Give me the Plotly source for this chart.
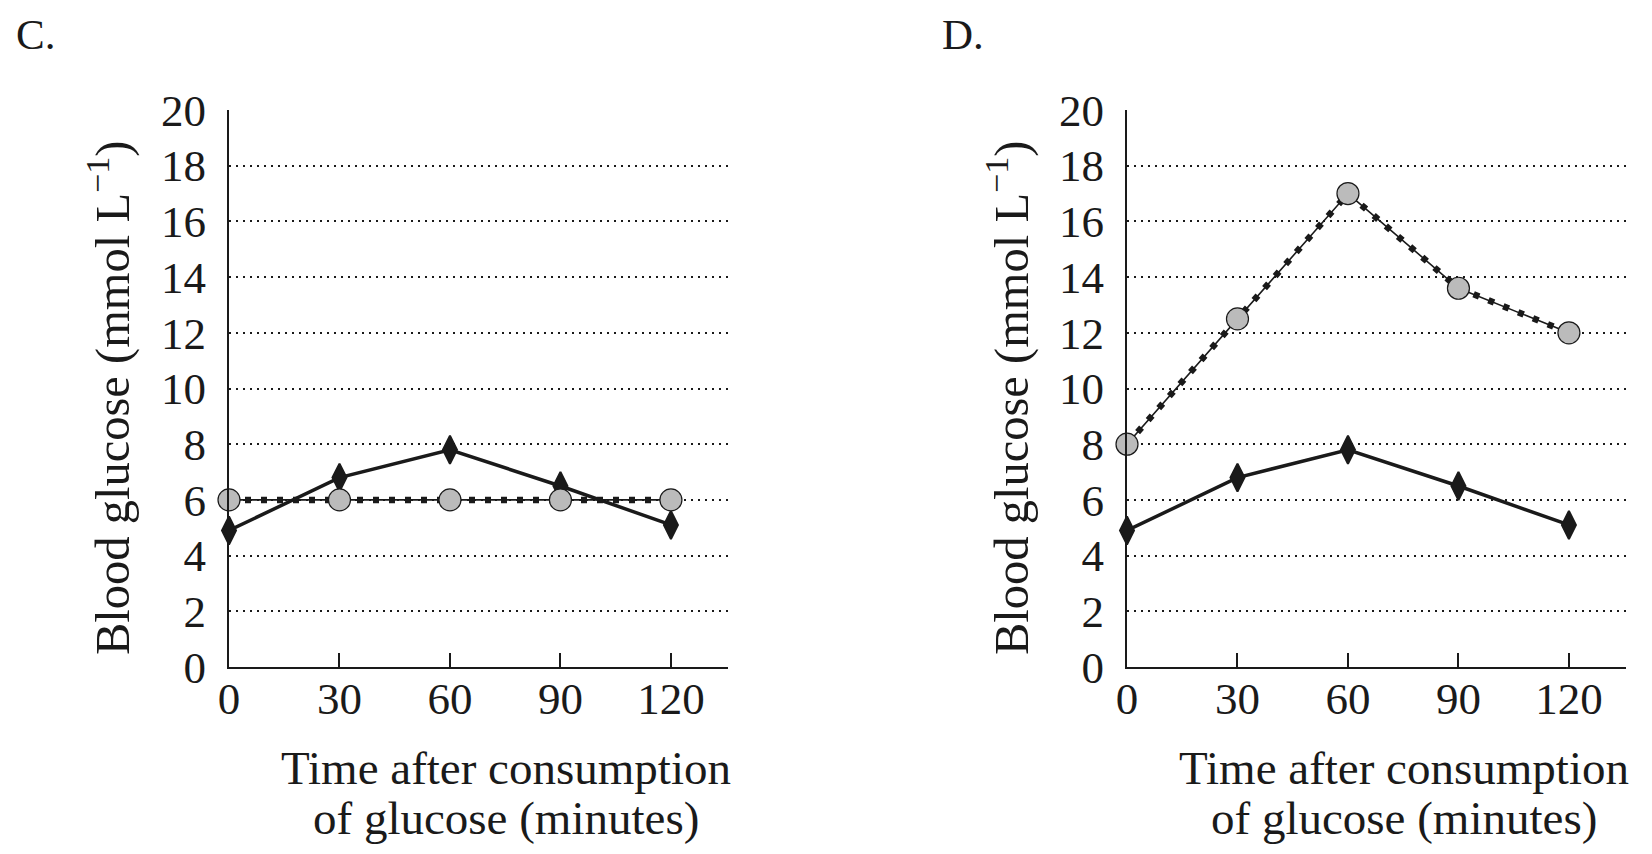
import plotly.graph_objects as go

# ---- data ----
minutes = [0, 30, 60, 90, 120]
diamond_C = [4.9, 6.8, 7.8, 6.5, 5.1]
circle_C = [6, 6, 6, 6, 6]
diamond_D = [4.9, 6.8, 7.8, 6.5, 5.1]
circle_D = [8, 12.5, 17, 13.6, 12]

y_ticks = [0, 2, 4, 6, 8, 10, 12, 14, 16, 18, 20]
x_ticks = [0, 30, 60, 90, 120]
panel_labels = ["C.", "D."]
xtitle_lines = ["Time after consumption", "of glucose (minutes)"]
ytitle = "Blood glucose (mmol L<sup>\u22121</sup>)"

W, H = 1652, 854
OFF = 8  # page margin around the plot div
FONT = "Liberation Serif"
INK = "#1a1a1a"


# screen pixel -> paper fraction
def px(x):
    return (x - OFF) / W


def py(y):
    return 1 - (y - OFF) / H


fig = go.Figure()

panels = [
    ("x", "y", diamond_C, circle_C),
    ("x2", "y2", diamond_D, circle_D),
]

for xa, ya, dia, cir in panels:
    # solid line with black diamonds
    fig.add_trace(go.Scatter(
        x=minutes, y=dia, xaxis=xa, yaxis=ya, mode="lines+markers",
        line=dict(color=INK, width=3.5),
        marker=dict(symbol="diamond-tall", size=20, color=INK,
                    line=dict(color=INK, width=2)),
        cliponaxis=False, showlegend=False, hoverinfo="skip",
    ))
    # dotted line (thin line + dots) with grey circles
    fig.add_trace(go.Scatter(
        x=minutes, y=cir, xaxis=xa, yaxis=ya, mode="lines",
        line=dict(color=INK, width=6.5, dash="6px,10px"),
        cliponaxis=False, showlegend=False, hoverinfo="skip",
    ))
    fig.add_trace(go.Scatter(
        x=minutes, y=cir, xaxis=xa, yaxis=ya, mode="lines+markers",
        line=dict(color=INK, width=1.6),
        marker=dict(symbol="circle", size=22, color="#bbbbbb",
                    line=dict(color=INK, width=1.2)),
        cliponaxis=False, showlegend=False, hoverinfo="skip",
    ))

y_dom = [py(667), py(110)]
x_doms = [[px(229), px(728)], [px(1127), px(1626)]]

xaxis_style = dict(
    range=[0, 135.5], tickvals=x_ticks, ticks="inside", ticklen=14,
    tickwidth=1.5, tickcolor=INK, showline=True, linecolor=INK, linewidth=2,
    showgrid=False, zeroline=False, ticklabelstandoff=-9, automargin=False,
    tickfont=dict(family=FONT, size=45, color=INK), fixedrange=True,
)
yaxis_style = dict(
    range=[0, 20], tickvals=y_ticks, ticks="", showline=True, linecolor=INK,
    linewidth=2, showgrid=True, gridcolor=INK, gridwidth=2,
    griddash="2px,5px", zeroline=False, ticklabelstandoff=12,
    domain=y_dom, automargin=False,
    tickfont=dict(family=FONT, size=45, color=INK), fixedrange=True,
)

fig.update_layout(
    width=W, height=H,
    margin=dict(l=0, r=0, t=0, b=0, pad=0),
    paper_bgcolor="white", plot_bgcolor="white",
    showlegend=False,
    xaxis=dict(xaxis_style, domain=x_doms[0], anchor="y"),
    yaxis=dict(yaxis_style, anchor="x"),
    xaxis2=dict(xaxis_style, domain=x_doms[1], anchor="y2"),
    yaxis2=dict(yaxis_style, anchor="x2"),
)

# panel letters and axis titles
label_x = [14, 940]
xtitle_cx = [506, 1404]
xtitle_cy = [768, 818]
ytitle_cx = [109, 1008]
for i in range(2):
    fig.add_annotation(
        text=panel_labels[i], xref="paper", yref="paper",
        x=px(label_x[i]), y=py(34), xanchor="left", yanchor="middle",
        showarrow=False, font=dict(family=FONT, size=43, color=INK),
    )
    for line, cy in zip(xtitle_lines, xtitle_cy):
        fig.add_annotation(
            text=line, xref="paper", yref="paper",
            x=px(xtitle_cx[i]), y=py(cy),
            xanchor="center", yanchor="middle", showarrow=False,
            font=dict(family=FONT, size=47, color=INK),
        )
    fig.add_annotation(
        text=ytitle, xref="paper", yref="paper",
        x=px(ytitle_cx[i]), y=py(398),
        xanchor="center", yanchor="middle", textangle=-90, showarrow=False,
        font=dict(family=FONT, size=48.5, color=INK),
    )

fig.write_html("out.html")
